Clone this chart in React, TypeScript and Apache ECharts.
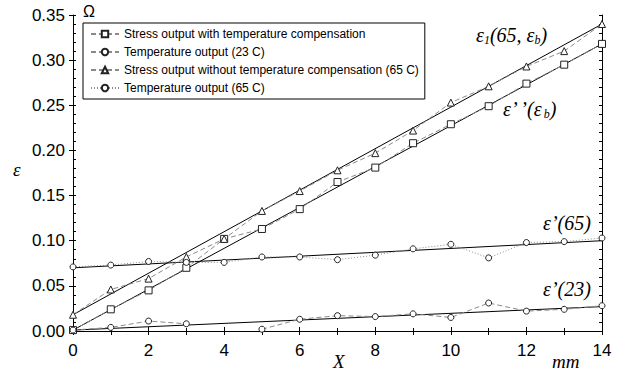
import React, { useEffect, useRef } from "react";
import * as echarts from "echarts";

const xValues = [0, 1, 2, 3, 4, 5, 6, 7, 8, 9, 10, 11, 12, 13, 14];
const stressComp = [0.001, 0.024, 0.045, 0.070, 0.102, 0.113, 0.135, 0.165, 0.181, 0.208, 0.229, 0.249, 0.274, 0.295, 0.318];
const temp23 = [0.001, 0.004, 0.011, 0.008, null, 0.002, 0.013, 0.017, 0.016, 0.019, 0.015, 0.031, 0.022, 0.024, 0.028];
const stressNoComp = [0.018, 0.046, 0.058, 0.082, 0.102, 0.133, 0.155, 0.178, 0.197, 0.222, 0.253, 0.271, 0.293, 0.310, 0.340];
const temp65 = [0.071, 0.073, 0.077, 0.076, 0.076, 0.082, 0.082, 0.079, 0.084, 0.091, 0.096, 0.081, 0.098, 0.099, 0.103];

const fitX = [0, 14];
const fitStressComp = [0.001, 0.318];
const fitStressNoComp = [0.018, 0.340];
const fit65 = [0.070, 0.100];
const fit23 = [0.001, 0.027];

const seriesNames = [
  "Stress output with temperature compensation",
  "Temperature output (23 C)",
  "Stress output without temperature compensation (65 C)",
  "Temperature output (65 C)",
];

const pairs = (xs: number[], ys: (number | null)[]) => xs.map((x, i) => [x, ys[i]]);

const serif = "'Liberation Serif', 'Times New Roman', serif";
const sans = "'Liberation Sans', Arial, sans-serif";

const markerStyle = { color: "#fff", borderColor: "#222", borderWidth: 1 };

function dataSeries(name: string, ys: (number | null)[], symbol: string, size: number, lineType: any) {
  return {
    name,
    type: "line",
    data: pairs(xValues, ys),
    symbol,
    symbolSize: size,
    showAllSymbol: true,
    connectNulls: false,
    itemStyle: markerStyle,
    lineStyle: { color: "#8a8a8a", width: 1, type: lineType },
    z: 3,
  };
}

function fitSeries(ys: number[]) {
  return {
    type: "line",
    data: pairs(fitX, ys),
    symbol: "none",
    lineStyle: { color: "#000", width: 1 },
    silent: true,
    z: 2,
  };
}

export default function App() {
  const ref = useRef<HTMLDivElement>(null);
  useEffect(() => {
    const chart = echarts.init(ref.current!, null, { renderer: "svg" });
    const yBase = { type: "value", min: 0, max: 0.35, gridIndex: 0 };
    const mainRich = {
      m: { fontFamily: serif, fontStyle: "italic", fontSize: 20, lineHeight: 22, color: "#000" },
      s: { fontFamily: serif, fontStyle: "italic", fontSize: 12, lineHeight: 12, verticalAlign: "bottom", color: "#000" },
    };
    chart.setOption({
      animation: false,
      grid: { left: 73, top: 15, right: 19, bottom: 48, show: false },
      legend: {
        data: seriesNames,
        orient: "vertical",
        left: 83,
        top: 23,
        padding: [4, 6, 4, 7],
        itemWidth: 28,
        itemHeight: 8,
        itemGap: 4,
        borderColor: "#000",
        borderWidth: 1,
        backgroundColor: "#fff",
        textStyle: { fontFamily: sans, fontSize: 12, color: "#000", lineHeight: 14 },
      },
      xAxis: [
        {
          type: "value", min: 0, max: 14, interval: 2, position: "bottom",
          axisLine: { lineStyle: { color: "#000" } },
          axisTick: { show: true, inside: true, length: 4, lineStyle: { color: "#000" } },
          minorTick: { show: true, splitNumber: 2, length: 3, lineStyle: { color: "#000" } },
          axisLabel: { fontFamily: sans, fontSize: 17, color: "#000", margin: 11 },
          splitLine: { show: false },
        },
        {
          type: "value", min: 0, max: 14, interval: 1, position: "top",
          axisLine: { lineStyle: { color: "#000" } },
          axisTick: { show: true, inside: true, length: 4, lineStyle: { color: "#000" } },
          axisLabel: { show: false },
          splitLine: { show: false },
        },
      ],
      yAxis: [
        {
          ...yBase, interval: 0.05, position: "left",
          axisLine: { show: true, lineStyle: { color: "#000" } },
          axisTick: { show: true, inside: false, length: 4, lineStyle: { color: "#000" } },
          axisLabel: { fontFamily: sans, fontSize: 17, color: "#000", margin: 8, formatter: (v: number) => v.toFixed(2) },
          splitLine: { show: false },
        },
        {
          ...yBase, interval: 0.01, position: "left",
          axisLine: { show: false },
          axisTick: { show: true, inside: true, length: 3, lineStyle: { color: "#000" } },
          axisLabel: { show: false },
          splitLine: { show: false },
        },
        {
          ...yBase, interval: 0.01, position: "right",
          axisLine: { show: true, lineStyle: { color: "#000" } },
          axisTick: { show: true, inside: true, length: 3, lineStyle: { color: "#000" } },
          axisLabel: { show: false },
          splitLine: { show: false },
        },
      ],
      series: [
        fitSeries(fitStressComp),
        fitSeries(fitStressNoComp),
        fitSeries(fit65),
        fitSeries(fit23),
        dataSeries(seriesNames[0], stressComp, "rect", 7, [5, 3]),
        dataSeries(seriesNames[1], temp23, "circle", 6, [5, 3]),
        dataSeries(seriesNames[2], stressNoComp, "triangle", 7, [5, 3]),
        dataSeries(seriesNames[3], temp65, "circle", 6, [1, 2]),
      ],
      graphic: [
        { type: "text", left: 83, top: 3, style: { text: "Ω", font: `16px ${sans}`, fill: "#000" } },
        { type: "text", left: 13, top: 160, style: { text: "ε", font: `italic 19px ${serif}`, fill: "#000" } },
        { type: "text", left: 333, top: 352, style: { text: "X", font: `italic 19px ${serif}`, fill: "#000" } },
        { type: "text", left: 552, top: 352, style: { text: "mm", font: `italic 19px ${serif}`, fill: "#000" } },
        {
          type: "text", left: 476, top: 25,
          style: { text: "{m|ε}{s|1}{m|(65, ε}{s|b}{m|)}", rich: mainRich },
        },
        {
          type: "text", left: 503, top: 99,
          style: { text: "{m|ε’ ’(ε}{s|b}{m|)}", rich: mainRich },
        },
        {
          type: "text", left: 543, top: 213,
          style: { text: "{m|ε’(65)}", rich: mainRich },
        },
        {
          type: "text", left: 543, top: 279,
          style: { text: "{m|ε’(23)}", rich: mainRich },
        },
      ],
    });
    return () => chart.dispose();
  }, []);
  return (
    <div
      ref={ref}
      style={{ position: "absolute", left: 0, top: 0, width: 621, height: 379, background: "#fff" }}
    />
  );
}
